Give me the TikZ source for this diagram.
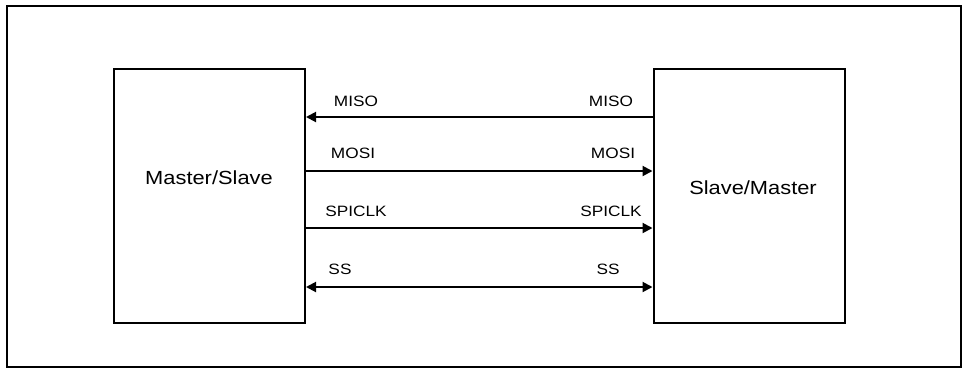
\documentclass[tikz,border=0pt]{standalone}
\usepackage{fontspec}
\setmainfont{Liberation Sans}
\newfontfamily\lblfont[FakeStretch=1.15]{Liberation Sans}
\usetikzlibrary{arrows.meta}
\begin{document}
\begin{tikzpicture}[x=1pt,y=-1pt,
  blk/.style={draw=black,line width=2pt,minimum width=191pt,minimum height=254pt,inner sep=0pt},
  blktxt/.style={font=\lblfont\fontsize{19}{22}\selectfont,inner sep=0pt,anchor=base},
  sig/.style={line width=2pt,-{Triangle[length=10pt,width=10pt]}},
  sigb/.style={line width=2pt,{Triangle[length=10pt,width=10pt]}-{Triangle[length=10pt,width=10pt]}},
  lbl/.style={font=\lblfont\fontsize{15}{18}\selectfont,inner sep=0pt,anchor=base}]
\useasboundingbox (0,0) rectangle (963,368);
\draw[line width=2pt] (7,6) rectangle (961,366.5);
\node[blk] (ms) at (209.5,196) {};
\node[blk] (sm) at (749,196) {};
\node[blktxt] (mst) at (209,184) {Master/Slave};
\node[blktxt] (smt) at (753,194) {Slave/Master};
% signal rows
\coordinate (yMISO) at (0,117);
\coordinate (yMOSI) at (0,171);
\coordinate (yCLK) at (0,228);
\coordinate (ySS) at (0,287);
\draw[sig] (sm.west |- yMISO) -- (ms.east |- yMISO);
\draw[sig] (ms.east |- yMOSI) -- (sm.west |- yMOSI);
\draw[sig] (ms.east |- yCLK) -- (sm.west |- yCLK);
\draw[sigb] (ms.east |- ySS) -- (sm.west |- ySS);
% labels
\node[lbl] (l1) at (356,106) {MISO};
\node[lbl] (l2) at (353,158) {MOSI};
\node[lbl] (l3) at (356,216) {SPICLK};
\node[lbl] (l4) at (340,274) {SS};
\node[lbl] (r1) at (611,106) {MISO};
\node[lbl] (r2) at (613,158) {MOSI};
\node[lbl] (r3) at (611,216) {SPICLK};
\node[lbl] (r4) at (608,274) {SS};
\end{tikzpicture}
\end{document}
